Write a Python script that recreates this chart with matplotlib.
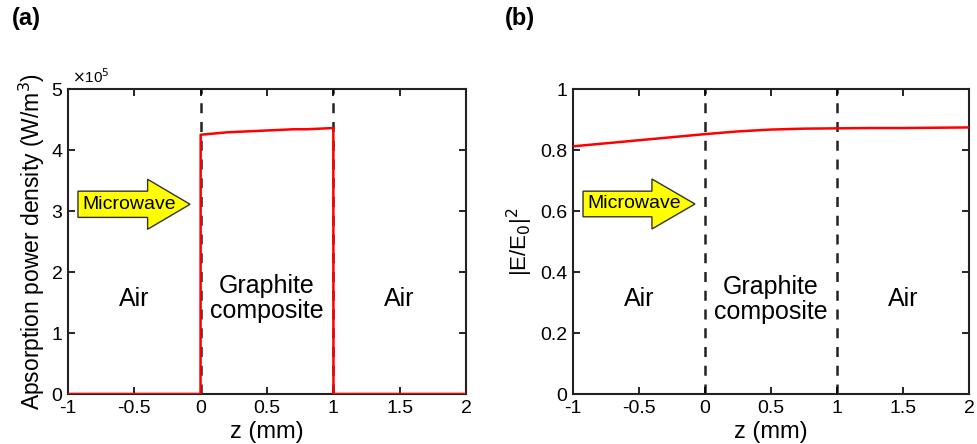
import numpy as np
import matplotlib.pyplot as plt
from matplotlib.ticker import FuncFormatter
from matplotlib.patches import FancyArrow

plt.rcParams['font.family'] = ['Liberation Sans', 'DejaVu Sans']

# Panel (a): absorption power density (W/m^3)
z_a = [-1.0, -0.001, 0.0, 0.1, 0.2, 0.3, 0.4, 0.5, 0.6, 0.7, 0.8, 0.9, 1.0, 1.001, 2.0]
p_a = [0, 0, 4.25e5, 4.27e5, 4.29e5, 4.30e5, 4.31e5, 4.32e5, 4.33e5, 4.34e5, 4.34e5, 4.35e5, 4.36e5, 0, 0]

# Panel (b): normalised field intensity |E/E0|^2
z_b = [-1.0, -0.75, -0.5, -0.25, 0.0, 0.25, 0.5, 0.75, 1.0, 1.25, 1.5, 1.75, 2.0]
e_b = [0.812, 0.822, 0.832, 0.842, 0.852, 0.861, 0.867, 0.870, 0.871, 0.872, 0.872, 0.873, 0.874]

x_ticks = [-1, -0.5, 0, 0.5, 1, 1.5, 2]
x_ticklabels = ['-1', '-0.5', '0', '0.5', '1', '1.5', '2']
boundaries = [0, 1]

fig = plt.figure(figsize=(9.77, 4.44), dpi=100)
ax1 = fig.add_axes([68 / 977, 50 / 444, 398 / 977, 305 / 444])
ax2 = fig.add_axes([573 / 977, 50 / 444, 396 / 977, 305 / 444])


def style_axis(ax):
    ax.set_xlim(-1, 2)
    ax.set_xticks(x_ticks)
    ax.set_xticklabels(x_ticklabels)
    ax.tick_params(direction='in', top=True, right=True, labelsize=14,
                   length=5, width=1.2)
    ax.tick_params(axis='x', pad=4)
    ax.tick_params(axis='y', pad=4)
    for s in ax.spines.values():
        s.set_linewidth(1.5)
        s.set_color('#222222')
    ax.set_xlabel('z (mm)', fontsize=17)
    ax.xaxis.set_label_coords(0.5, -0.088)
    for b in boundaries:
        ax.axvline(b, color='#222222', lw=1.8, ls=(0, (4, 3.5)), zorder=1)


def microwave(ax, x0, x1, yc, h, hw, hl):
    ax.add_patch(FancyArrow(x0, yc, x1 - x0, 0, width=h, head_width=hw,
                            head_length=hl, length_includes_head=True,
                            facecolor='#ffff00', edgecolor='#333333',
                            lw=1.0, zorder=5))
    ax.text(x0 + 0.03, yc, 'Microwave', fontsize=14, va='center', ha='left', zorder=6)


def region_labels(ax, y):
    ax.text(-0.5, y, 'Air', fontsize=18, ha='center', va='center')
    ax.text(0.5, y, 'Graphite\ncomposite', fontsize=18, ha='center', va='center',
            linespacing=1.05)
    ax.text(1.5, y, 'Air', fontsize=18, ha='center', va='center')


# (a)
style_axis(ax1)
ax1.plot(z_a, p_a, color='red', lw=1.8, zorder=3)
ax1.set_ylim(0, 5e5)
ax1.set_yticks([0, 1e5, 2e5, 3e5, 4e5, 5e5])
ax1.yaxis.set_major_formatter(FuncFormatter(lambda v, p: f'{v / 1e5:g}'))
ax1.set_ylabel('Apsorption power density (W/m$^3$)', fontsize=16.5, labelpad=3)
ax1.text(0.01, 1.01, r'$\times$10$^5$', transform=ax1.transAxes, fontsize=11,
         ha='left', va='bottom')
region_labels(ax1, 1.56e5)
microwave(ax1, -0.925, -0.08, 3.11e5, 0.43e5, 0.82e5, 0.32)

# (b)
style_axis(ax2)
ax2.plot(z_b, e_b, color='red', lw=1.8, zorder=3)
ax2.set_ylim(0, 1)
ax2.set_yticks([0, 0.2, 0.4, 0.6, 0.8, 1])
ax2.set_yticklabels(['0', '0.2', '0.4', '0.6', '0.8', '1'])
ax2.set_ylabel('|E/E$_0$|$^2$', fontsize=16, labelpad=4)
region_labels(ax2, 0.311)
microwave(ax2, -0.924, -0.076, 0.623, 0.084, 0.164, 0.326)

fig.text(12 / 977, 1 - 18 / 444, '(a)', fontsize=17, fontweight='bold', va='center')
fig.text(505 / 977, 1 - 18 / 444, '(b)', fontsize=17, fontweight='bold', va='center')

fig.savefig('out.png', dpi=100)
